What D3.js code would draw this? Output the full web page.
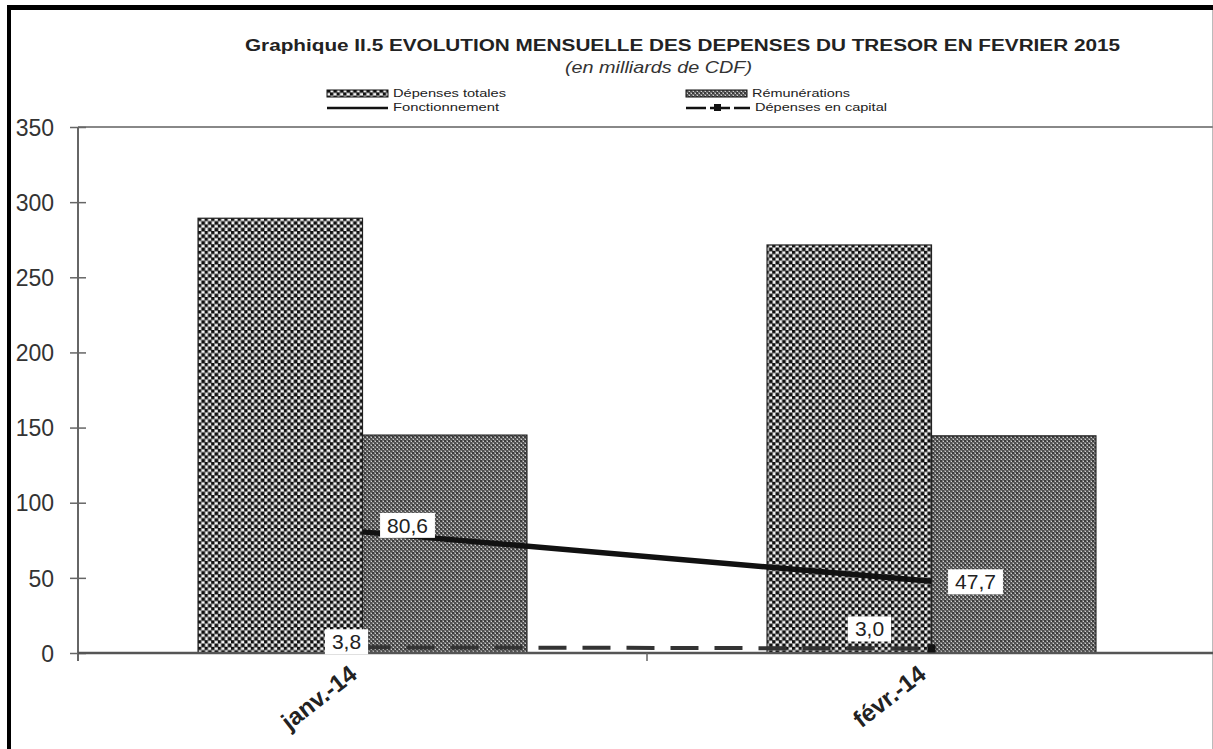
<!DOCTYPE html>
<meta charset="utf-8">
<script src="https://d3js.org/d3.v7.min.js"></script>
<style>
body{margin:0;background:#fff;}
text{font-family:"Liberation Sans",Arial,sans-serif;}
</style>
<body>
<div id="chart"></div>
<script>
// données (milliards de CDF)
var categories = ["janv.-14","févr.-14"];
var barSeries = ["Dépenses totales","Rémunérations"];
var depensesTotales = [289.3,271.5];
var remunerations = [145.0,144.5];
var fonctionnement = [80.6,47.7];
var depensesCapital = [3.8,3.0];
var yTicks = [0,50,100,150,200,250,300,350];

var W = 1213, H = 749;
var m = {left:78, right:-3, top:127, bottom:96};

var svg = d3.select('#chart').append('svg').attr('width',W).attr('height',H);
var defs = svg.append('defs');

// motif "Dépenses totales" : damier noir / blanc
var p1 = defs.append('pattern').attr('id','patTot').attr('patternUnits','userSpaceOnUse').attr('width',6.6).attr('height',6.6);
p1.append('rect').attr('width',6.6).attr('height',6.6).attr('fill','#f4f4f4');
p1.append('rect').attr('x',0).attr('y',0).attr('width',3.3).attr('height',3.3).attr('fill','#111');
p1.append('rect').attr('x',3.3).attr('y',3.3).attr('width',3.3).attr('height',3.3).attr('fill','#111');
p1.append('rect').attr('x',3.3).attr('y',0).attr('width',3.3).attr('height',0.6).attr('fill','#444');
p1.append('rect').attr('x',0).attr('y',3.3).attr('width',0.6).attr('height',3.3).attr('fill','#444');
// motif "Rémunérations" : damier fin gris
var p2 = defs.append('pattern').attr('id','patRem').attr('patternUnits','userSpaceOnUse').attr('width',4).attr('height',4);
p2.append('rect').attr('width',4).attr('height',4).attr('fill','#7a7a7a');
p2.append('rect').attr('x',0).attr('y',0).attr('width',2).attr('height',2).attr('fill','#3c3c3c');
p2.append('rect').attr('x',2).attr('y',2).attr('width',2).attr('height',2).attr('fill','#505050');
p2.append('rect').attr('x',1).attr('y',3).attr('width',1).attr('height',1).attr('fill','#d0d0d0');
p2.append('rect').attr('x',3).attr('y',1).attr('width',1).attr('height',1).attr('fill','#d0d0d0');
var fills = ['url(#patTot)','url(#patRem)'];

// cadre noir (haut et gauche)
svg.append('rect').attr('x',7).attr('y',5).attr('width',W-7).attr('height',5).attr('fill','#000');
svg.append('rect').attr('x',7).attr('y',5).attr('width',4).attr('height',H-5).attr('fill','#000');
svg.append('line').attr('x1',W-0.5).attr('x2',W-0.5).attr('y1',10).attr('y2',H).attr('stroke','#bbb');

// titre
svg.append('text').attr('x',245).attr('y',51)
  .attr('font-size',16).attr('font-weight','bold').attr('fill','#222')
  .attr('textLength',875).attr('lengthAdjust','spacingAndGlyphs')
  .text('Graphique II.5  EVOLUTION MENSUELLE DES DEPENSES DU TRESOR EN FEVRIER 2015');
svg.append('text').attr('x',565).attr('y',73)
  .attr('font-size',17).attr('font-style','italic').attr('fill','#333')
  .attr('textLength',187).attr('lengthAdjust','spacingAndGlyphs')
  .text('(en milliards de CDF)');

var x0 = d3.scaleBand().domain(categories).range([m.left, W-m.right]).paddingInner(0).paddingOuter(0);
var x1 = d3.scaleBand().domain(barSeries).range([0, x0.bandwidth()]).paddingInner(0).paddingOuter(0.73);
var y = d3.scaleLinear().domain([0,350]).range([H-m.bottom, m.top]);

// ligne du haut de la zone de tracé
svg.append('line').attr('x1',m.left).attr('x2',W).attr('y1',y(350)).attr('y2',y(350))
  .attr('stroke','#888').attr('stroke-width',2);

// barres
var barData = [depensesTotales, remunerations];
categories.forEach(function(c,i){
  barSeries.forEach(function(s,j){
    svg.append('rect')
      .attr('x',x0(c)+x1(s)).attr('y',y(barData[j][i]))
      .attr('width',x1.bandwidth()).attr('height',y(0)-y(barData[j][i]))
      .attr('fill',fills[j]).attr('stroke','#222').attr('stroke-width',1.2);
  });
});

// axe Y
var yAxis = svg.append('g').attr('transform','translate('+m.left+',0)')
  .call(d3.axisLeft(y).tickValues(yTicks).tickSizeInner(8).tickSizeOuter(0).tickPadding(16).tickFormat(d3.format('d')));
yAxis.select('.domain').attr('stroke','#666').attr('stroke-width',2).attr('d','M0,'+y(350)+'V'+(y(0)+8));
yAxis.selectAll('.tick line').attr('x1',-8).attr('x2',8).attr('stroke','#666').attr('stroke-width',1.5);
yAxis.selectAll('.tick text').attr('font-size',23).attr('fill','#333').attr('dy','0.36em')
  .attr('font-family','"Liberation Sans",Arial,sans-serif');

// axe X
var xg = svg.append('g');
xg.append('line').attr('x1',m.left).attr('x2',W).attr('y1',y(0)).attr('y2',y(0)).attr('stroke','#555').attr('stroke-width',2.5);
xg.append('line').attr('x1',x0(categories[1])).attr('x2',x0(categories[1])).attr('y1',y(0)).attr('y2',y(0)+8).attr('stroke','#666').attr('stroke-width',1.5);
categories.forEach(function(c){
  var cx = x0(c)+x0.bandwidth()/2;
  xg.append('text').attr('transform','translate('+(cx-4)+','+(y(0)+24)+') rotate(-38)')
    .attr('text-anchor','end').attr('font-size',24).attr('font-weight','bold').attr('fill','#222').text(c);
});

// séries en ligne
function cx(c){ return x0(c)+x0.bandwidth()/2; }
var line = d3.line().x(function(d){return cx(d.c);}).y(function(d){return y(d.v);});
var fonc = categories.map(function(c,i){return {c:c,v:fonctionnement[i]};});
var capi = categories.map(function(c,i){return {c:c,v:depensesCapital[i]};});

svg.append('path').datum(capi).attr('d',line).attr('fill','none')
  .attr('stroke','#333').attr('stroke-width',4).attr('stroke-dasharray','28,16');
svg.selectAll('.mk').data(capi).enter().append('rect')
  .attr('x',function(d){return cx(d.c)-4;}).attr('y',function(d){return y(d.v)-4;})
  .attr('width',8).attr('height',8).attr('fill','#111');
svg.append('path').datum(fonc).attr('d',line).attr('fill','none')
  .attr('stroke','#111').attr('stroke-width',5.5);

// étiquettes de données
function label(x,yy,t){
  var g = svg.append('g');
  var tx = g.append('text').attr('x',x).attr('y',yy).attr('text-anchor','middle')
    .attr('font-size',21).attr('fill','#222').text(t);
  var b = tx.node().getBBox();
  g.insert('rect','text').attr('x',b.x-7).attr('y',b.y-1).attr('width',b.width+14).attr('height',b.height+2).attr('fill','#fff');
}
var fmt = function(v){ return v.toFixed(1).replace('.',','); };
label(cx(categories[0])+45, y(fonctionnement[0])+1, fmt(fonctionnement[0]));
label(cx(categories[1])+44, y(fonctionnement[1])+8, fmt(fonctionnement[1]));
label(cx(categories[0])-16, y(depensesCapital[0])+2, fmt(depensesCapital[0]));
label(cx(categories[1])-62, y(depensesCapital[1])-12, fmt(depensesCapital[1]));

// légende
var leg = svg.append('g').attr('font-size',11).attr('fill','#222');
[[327,'Dépenses totales',0,113],[686,'Rémunérations',1,98]].forEach(function(d){
  leg.append('rect').attr('x',d[0]).attr('y',90).attr('width',61).attr('height',7)
    .attr('fill',fills[d[2]]).attr('stroke','#111').attr('stroke-width',1);
  leg.append('text').attr('x',d[0]+66).attr('y',97).attr('textLength',d[3]).attr('lengthAdjust','spacingAndGlyphs').text(d[1]);
});
leg.append('line').attr('x1',327).attr('x2',388).attr('y1',108).attr('y2',108).attr('stroke','#111').attr('stroke-width',2.5);
leg.append('text').attr('x',393).attr('y',111).attr('textLength',106).attr('lengthAdjust','spacingAndGlyphs').text('Fonctionnement');
leg.append('line').attr('x1',686).attr('x2',750).attr('y1',108).attr('y2',108).attr('stroke','#111').attr('stroke-width',2.5).attr('stroke-dasharray','20,4');
leg.append('rect').attr('x',714).attr('y',104).attr('width',7).attr('height',7).attr('fill','#111');
leg.append('text').attr('x',755).attr('y',111).attr('textLength',132).attr('lengthAdjust','spacingAndGlyphs').text('Dépenses en capital');
</script>
</body>
